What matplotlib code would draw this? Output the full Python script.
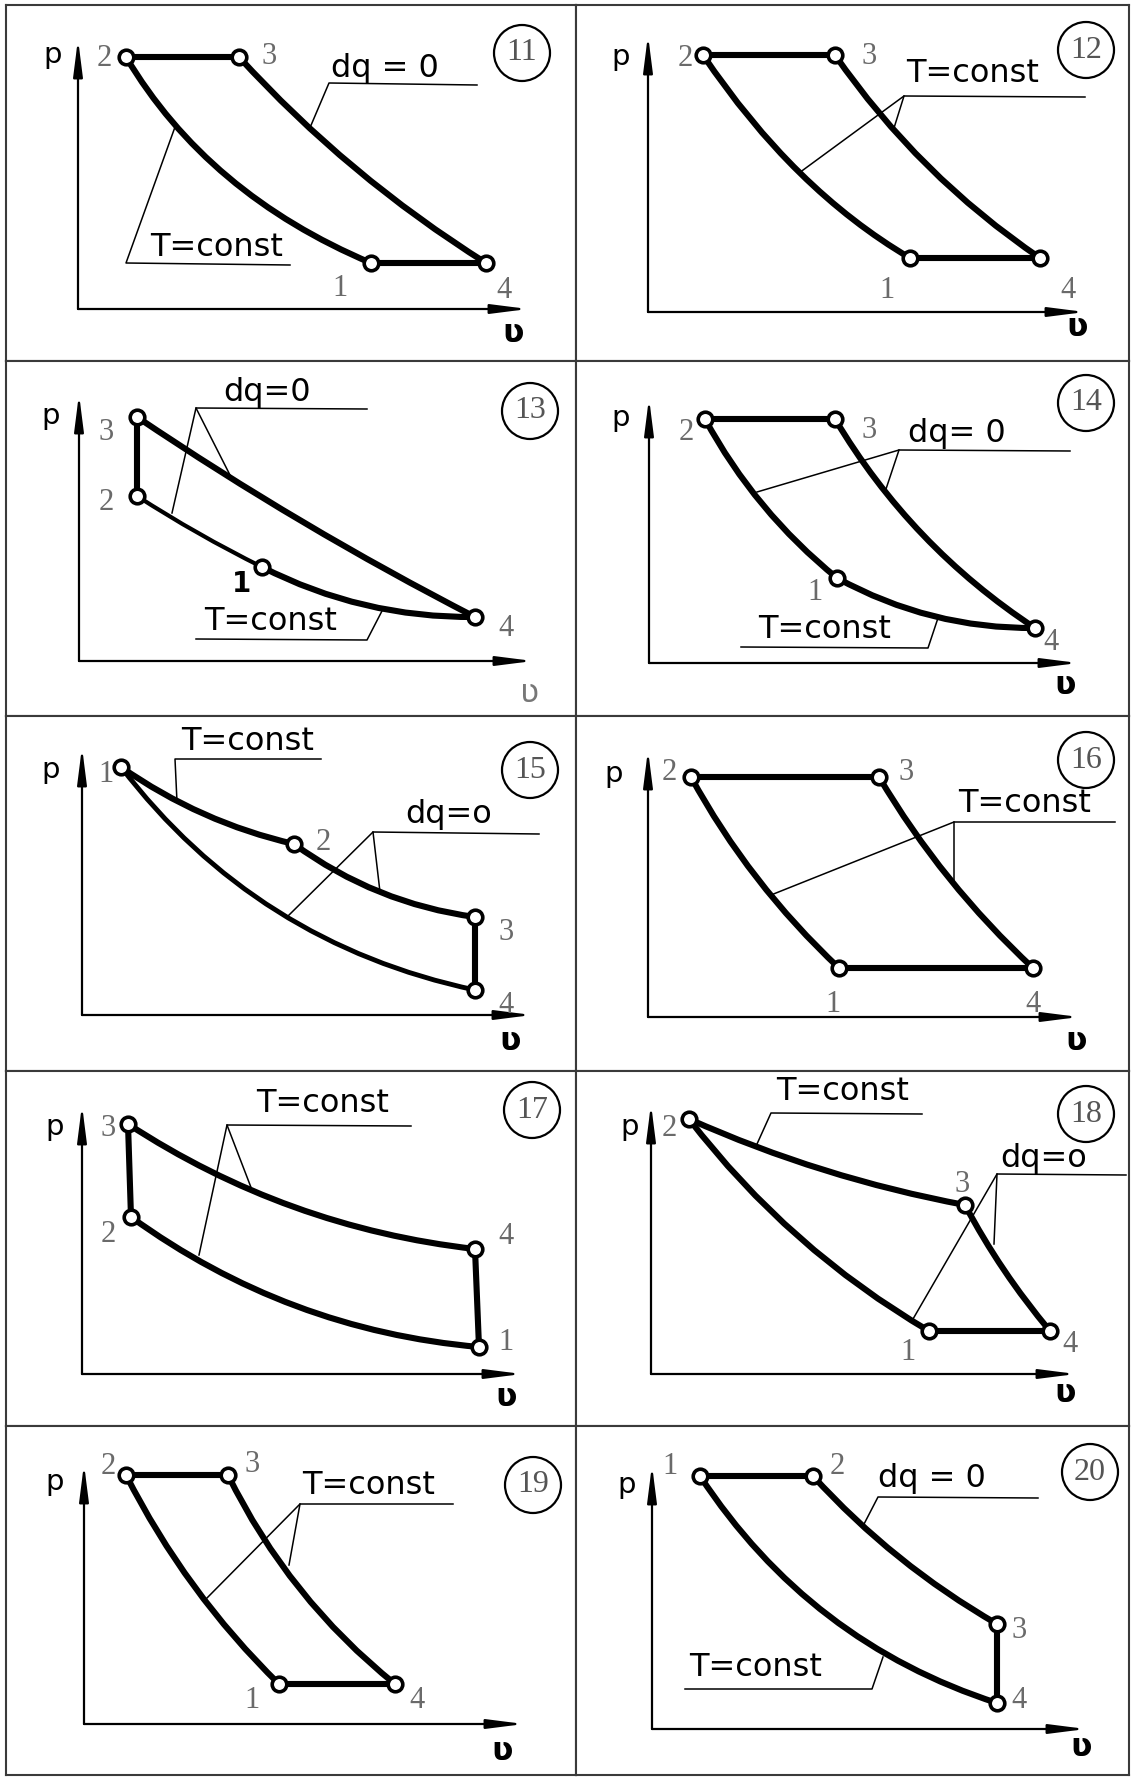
import matplotlib.pyplot as plt
from matplotlib.path import Path
from matplotlib.patches import PathPatch, Circle

W, H = 1132, 1778
COLS = [6, 576, 1129]
ROWS = [5, 361, 716, 1071, 1426, 1775]

# state points 1..4 of every cycle: v and p (pixels from the axis origin)
v11 = [293, 48, 161, 408]
p11 = [46, 252, 252, 46]
v12 = [262, 55, 187, 392]
p12 = [54, 257, 257, 54]
v13 = [183, 58, 58, 396]
p13 = [94, 165, 244, 44]
v14 = [188, 56, 186, 386]
p14 = [85, 244, 244, 35]
v15 = [39, 212, 393, 393]
p15 = [248, 171, 98, 25]
v16 = [191, 43, 231, 385]
p16 = [49, 240, 240, 49]
v17 = [397, 49, 46, 393]
p17 = [27, 157, 250, 125]
v18 = [278, 38, 314, 399]
p18 = [43, 255, 169, 43]
v19 = [195, 42, 144, 311]
p19 = [40, 249, 249, 40]
v20 = [48, 161, 345, 345]
p20 = [253, 253, 105, 26]

# curved processes: (from, to, v, p of the point of largest sag)
c11 = [(2, 1, 150, 132), (3, 4, 277, 141)]
c12 = [(2, 1, 152, 139), (3, 4, 280, 146)]
c13 = [(3, 4, 224, 139), (2, 1, 119, 128), (1, 4, 286, 56)]
c14 = [(2, 1, 114, 158), (3, 4, 274, 128), (1, 4, 284, 47)]
c15 = [(1, 2, 122, 201), (2, 3, 298, 123), (1, 4, 195, 104)]
c16 = [(2, 1, 109, 139), (3, 4, 301, 139)]
c17 = [(3, 4, 212, 167), (2, 1, 214, 68)]
c18 = [(2, 3, 173, 204), (3, 4, 353, 104), (2, 1, 148, 137)]
c19 = [(2, 1, 110, 138), (3, 4, 216, 135)]
c20 = [(1, 4, 177, 113), (2, 3, 247, 172)]

# straight processes
s11 = [(2, 3), (1, 4)]
s12 = [(2, 3), (1, 4)]
s13 = [(2, 3)]
s14 = [(2, 3)]
s15 = [(3, 4)]
s16 = [(2, 3), (1, 4)]
s17 = [(2, 3), (4, 1)]
s18 = [(1, 4)]
s19 = [(2, 3), (1, 4)]
s20 = [(1, 2), (3, 4)]

# ---- layout (image pixels) ----
origins = [(78, 309), (648, 312), (79, 661), (649, 663), (82, 1015),
           (648, 1017), (82, 1374), (651, 1374), (84, 1724), (652, 1729)]
axis_len = [(270, 450), (277, 437), (267, 454), (265, 429), (268, 450),
            (267, 431), (269, 440), (270, 425), (260, 440), (264, 434)]
p_pos = [(-25, 254), (-27, 255), (-28, 245), (-28, 245), (-31, 245),
         (-34, 243), (-27, 247), (-21, 247), (-29, 242), (-25, 244)]
v_pos = [(435, -24), (429, -16), (451, -33), (416, -23), (428, -27),
         (428, -25), (424, -23), (414, -20), (418, -28), (429, -18)]
circ_pos = [(444, 256), (438, 262), (451, 250), (437, 260), (448, 245),
            (438, 257), (450, 264), (435, 260), (449, 239), (438, 257)]
lab_pos = [
    [(262, 21), (26, 251), (191, 252), (426, 19)],
    [(239, 22), (37, 254), (221, 255), (420, 22)],
    [(162, 77), (27, 158), (27, 228), (427, 32)],
    [(166, 70), (37, 230), (220, 232), (402, 20)],
    [(24, 241), (241, 173), (424, 83), (424, 10)],
    [(185, 13), (21, 245), (258, 245), (385, 13)],
    [(424, 32), (26, 139), (26, 245), (424, 137)],
    [(257, 22), (18, 245), (311, 190), (419, 30)],
    [(168, 24), (24, 257), (168, 259), (333, 24)],
    [(18, 262), (185, 262), (367, 99), (367, 29)],
]
notes = [
    [("dq = 0", (307, 241), [[(399, 224), (251, 226), (231, 179)]]),
     ("T=const", (139, 62), [[(212, 44), (48, 46), (97, 182)]])],
    [("T=const", (325, 239), [[(437, 215), (256, 216), (151, 139)], [(256, 216), (246, 184)]])],
    [("dq=0", (188, 268), [[(288, 252), (117, 253), (93, 148)], [(117, 253), (154, 180)]]),
     ("T=const", (192, 39), [[(117, 22), (288, 21), (304, 52)]])],
    [("dq= 0", (308, 229), [[(421, 212), (250, 213), (108, 171)], [(250, 213), (237, 174)]]),
     ("T=const", (176, 33), [[(92, 16), (279, 15), (289, 45)]])],
    [("T=const", (166, 274), [[(239, 256), (93, 256), (95, 213)]]),
     ("dq=o", (367, 200), [[(457, 181), (291, 183), (205, 98)], [(291, 183), (298, 123)]])],
    [("T=const", (377, 213), [[(467, 195), (306, 195), (123, 122)], [(306, 195), (306, 132)]])],
    [("T=const", (241, 271), [[(329, 248), (145, 249), (117, 119)], [(145, 249), (170, 184)]])],
    [("T=const", (192, 282), [[(271, 260), (120, 261), (106, 230)]]),
     ("dq=o", (393, 215), [[(475, 199), (346, 200), (262, 55)], [(346, 200), (343, 130)]])],
    [("T=const", (285, 239), [[(369, 220), (216, 220), (121, 124)], [(216, 220), (205, 159)]])],
    [("dq = 0", (280, 251), [[(386, 231), (226, 232), (211, 203)]]),
     ("T=const", (104, 62), [[(33, 40), (220, 40), (231, 72)]])],
]
thin = {(13, 2, 1): 3.0, (15, 1, 4): 3.5}

numbers = list(range(11, 21))
vs = [v11, v12, v13, v14, v15, v16, v17, v18, v19, v20]
ps = [p11, p12, p13, p14, p15, p16, p17, p18, p19, p20]
cs = [c11, c12, c13, c14, c15, c16, c17, c18, c19, c20]
ss = [s11, s12, s13, s14, s15, s16, s17, s18, s19, s20]

LW = 4.4
DIGIT = dict(family='Liberation Serif', fontsize=22, color='#6a6a6a', ha='center', va='center')

fig = plt.figure(figsize=(W / 100, H / 100), dpi=100)
fig.patch.set_facecolor('white')

for k, num in enumerate(numbers):
    r, c = divmod(k, 2)
    x0, x1 = COLS[c], COLS[c + 1]
    y0, y1 = ROWS[r], ROWS[r + 1]
    ax = fig.add_axes([x0 / W, 1 - y1 / H, (x1 - x0) / W, (y1 - y0) / H])
    ox, oy = origins[k]
    ax.set_xlim(x0 - ox, x1 - ox)
    ax.set_ylim(oy - y1, oy - y0)
    ax.set_xticks([])
    ax.set_yticks([])
    for sp in ax.spines.values():
        sp.set_color('#3a3a3a')
        sp.set_linewidth(1.5)

    # axes with arrows
    ptop, vend = axis_len[k]
    arrow = dict(arrowstyle='-|>,head_length=1.1,head_width=0.14', color='black',
                 lw=1.6, shrinkA=0, shrinkB=0, mutation_scale=20)
    ax.annotate('', xy=(0, ptop), xytext=(0, 0), arrowprops=arrow)
    ax.annotate('', xy=(vend, 0), xytext=(0, 0), arrowprops=arrow)
    ax.text(*p_pos[k], 'p', fontsize=21, ha='center', va='center', family='DejaVu Sans')
    vcol, vw = ('#777777', 'normal') if num == 13 else ('black', 'bold')
    ax.text(*v_pos[k], 'ʋ', fontsize=23, ha='center', va='center',
            family='DejaVu Sans', color=vcol, fontweight=vw)

    v, p = vs[k], ps[k]
    # curved processes as quadratic Bezier through the sag point
    for a, b, mv, mp in cs[k]:
        A = (v[a - 1], p[a - 1])
        B = (v[b - 1], p[b - 1])
        ctrl = (2 * mv - (A[0] + B[0]) / 2, 2 * mp - (A[1] + B[1]) / 2)
        path = Path([A, ctrl, B], [Path.MOVETO, Path.CURVE3, Path.CURVE3])
        ax.add_patch(PathPatch(path, fill=False, lw=thin.get((num, a, b), LW),
                               edgecolor='black', capstyle='round', zorder=3))
    for a, b in ss[k]:
        ax.plot([v[a - 1], v[b - 1]], [p[a - 1], p[b - 1]], color='black',
                lw=LW, solid_capstyle='round', zorder=3)
    ax.plot(v, p, 'o', ms=10.5, mfc='white', mec='black', mew=2.6, zorder=5)

    # state numbers
    for i, (lx, ly) in enumerate(lab_pos[k]):
        if num == 13 and i == 0:
            ax.text(lx, ly, '1', fontsize=20, ha='center', va='center',
                    color='black', fontweight='bold', family='DejaVu Sans')
        else:
            ax.text(lx, ly, str(i + 1), **DIGIT)

    # annotations with leader lines
    for txt, (tx, ty), legs in notes[k]:
        ax.text(tx, ty, txt, fontsize=23, ha='center', va='center', family='DejaVu Sans')
        for leg in legs:
            ax.plot([q[0] for q in leg], [q[1] for q in leg], color='black', lw=1.1, zorder=2)

    # cycle number in a circle
    cx, cy = circ_pos[k]
    ax.add_patch(Circle((cx, cy), 28, fill=False, lw=1.6, edgecolor='black'))
    ax.text(cx, cy, str(num), family='Liberation Serif', fontsize=23,
            color='#555555', ha='center', va='center')

fig.savefig('out.png', dpi=100, facecolor='white')
